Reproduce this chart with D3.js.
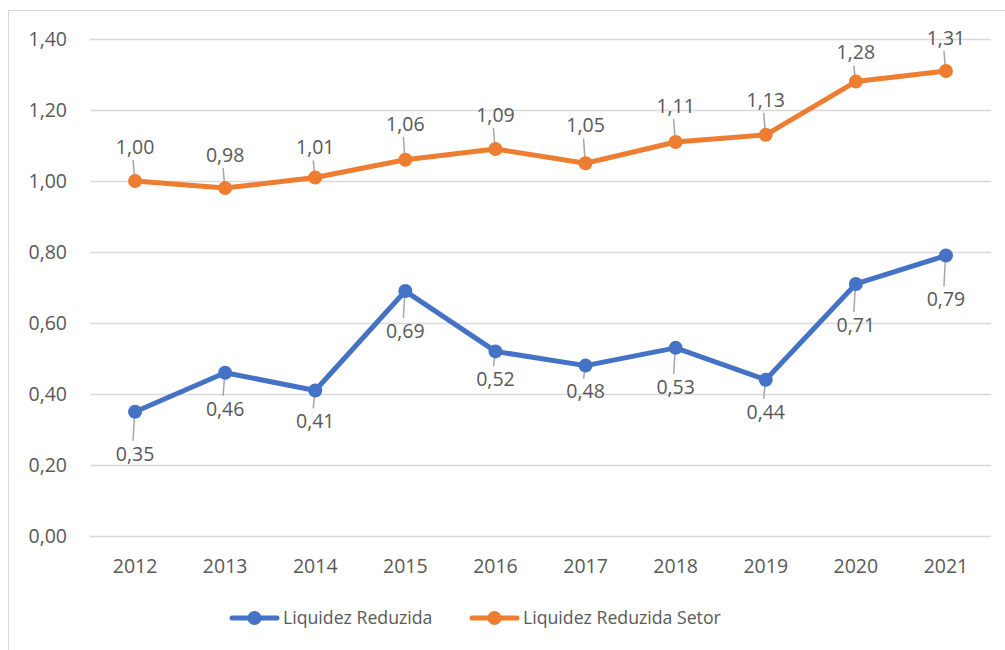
<!DOCTYPE html>
<html>
<head>
<meta charset="utf-8">
<script src="https://cdn.jsdelivr.net/npm/d3@7"></script>
<style>
  body { margin: 0; background: #fff; }
  svg text { font-family: "Open Sans", sans-serif; fill: #595959; }
</style>
</head>
<body>
<div id="chart"></div>
<script>
// === DONNÉES ===
const years = ["2012", "2013", "2014", "2015", "2016", "2017", "2018", "2019", "2020", "2021"];
const liquidez = [0.35, 0.46, 0.41, 0.69, 0.52, 0.48, 0.53, 0.44, 0.71, 0.79];
const liquidezSetor = [1.00, 0.98, 1.01, 1.06, 1.09, 1.05, 1.11, 1.13, 1.28, 1.31];
const yTicks = [0, 0.2, 0.4, 0.6, 0.8, 1.0, 1.2, 1.4];
const seriesNames = ["Liquidez Reduzida", "Liquidez Reduzida Setor"];

// === CONFIGURATION ===
const W = 1005, H = 650;
const plot = { left: 90, right: 991, top: 39, bottom: 536 };
const colors = { blue: "#4472C4", orange: "#ED7D31" };
const numSize = "19.5px";
const legendSize = "17.7px";
// décalage vertical des étiquettes (placées à la main dans l'original)
const offsetsSetor = [-34, -33, -30, -36, -34, -38, -36, -35, -29, -33];
const offsetsLiq = [42, 36, 31, 40, 28, 26, 39, 32, 41, 44];
const fmt = v => v.toFixed(2).replace(".", ",");

const svg = d3.select("#chart").append("svg")
  .attr("width", W)
  .attr("height", H);

// cadre du graphique
svg.append("rect")
  .attr("x", 8.5).attr("y", 10.5)
  .attr("width", 1010).attr("height", 650)
  .attr("fill", "none")
  .attr("stroke", "#d9d9d9");

const x = d3.scaleBand().domain(years).range([plot.left, plot.right]);
const y = d3.scaleLinear().domain([0, 1.4]).range([plot.bottom, plot.top]);
const cx = d => x(d) + x.bandwidth() / 2;

// grille
svg.append("g")
  .selectAll("line")
  .data(yTicks)
  .enter().append("line")
  .attr("x1", plot.left).attr("x2", plot.right)
  .attr("y1", d => Math.round(y(d)) + 0.5)
  .attr("y2", d => Math.round(y(d)) + 0.5)
  .attr("stroke", "#d9d9d9")
  .attr("stroke-width", 1.3);

// axe Y
svg.append("g")
  .selectAll("text")
  .data(yTicks)
  .enter().append("text")
  .attr("x", 67)
  .attr("y", d => y(d))
  .attr("dy", "0.35em")
  .attr("text-anchor", "end")
  .style("font-size", numSize)
  .text(d => fmt(d));

// axe X
svg.append("g")
  .selectAll("text")
  .data(years)
  .enter().append("text")
  .attr("x", d => cx(d))
  .attr("y", 566)
  .attr("dy", "0.35em")
  .attr("text-anchor", "middle")
  .style("font-size", numSize)
  .text(d => d);

// === SÉRIES ===
function drawSeries(values, color, offsets) {
  const pts = years.map((yr, i) => ({ yr, v: values[i], off: offsets[i] }));

  svg.append("path")
    .datum(pts)
    .attr("fill", "none")
    .attr("stroke", color)
    .attr("stroke-width", 5)
    .attr("stroke-linejoin", "round")
    .attr("stroke-linecap", "round")
    .attr("d", d3.line().x(d => cx(d.yr)).y(d => y(d.v)));

  // lignes de rappel
  svg.append("g")
    .selectAll("line")
    .data(pts)
    .enter().append("line")
    .attr("x1", d => cx(d.yr) - 0.5)
    .attr("x2", d => cx(d.yr) - 2)
    .attr("y1", d => y(d.v) + Math.sign(d.off) * 2)
    .attr("y2", d => y(d.v) + d.off - Math.sign(d.off) * 13)
    .attr("stroke", "#a6a6a6")
    .attr("stroke-width", 1.5);

  svg.append("g")
    .selectAll("circle")
    .data(pts)
    .enter().append("circle")
    .attr("cx", d => cx(d.yr))
    .attr("cy", d => y(d.v))
    .attr("r", 7)
    .attr("fill", color);

  svg.append("g")
    .selectAll("text")
    .data(pts)
    .enter().append("text")
    .attr("x", d => cx(d.yr))
    .attr("y", d => y(d.v) + d.off)
    .attr("dy", "0.35em")
    .attr("text-anchor", "middle")
    .style("font-size", numSize)
    .text(d => fmt(d.v));
}

drawSeries(liquidezSetor, colors.orange, offsetsSetor);
drawSeries(liquidez, colors.blue, offsetsLiq);

// === LÉGENDE ===
const legendItems = [
  { name: seriesNames[0], color: colors.blue, x0: 230 },
  { name: seriesNames[1], color: colors.orange, x0: 470 }
];
const legend = svg.append("g").selectAll("g")
  .data(legendItems)
  .enter().append("g")
  .attr("transform", d => `translate(${d.x0},618)`);

legend.append("line")
  .attr("x1", 2).attr("x2", 47)
  .attr("stroke", d => d.color)
  .attr("stroke-width", 5)
  .attr("stroke-linecap", "round");

legend.append("circle")
  .attr("cx", 24.5)
  .attr("r", 7)
  .attr("fill", d => d.color);

legend.append("text")
  .attr("x", 53)
  .attr("dy", "0.35em")
  .style("font-size", legendSize)
  .text(d => d.name);
</script>
</body>
</html>
